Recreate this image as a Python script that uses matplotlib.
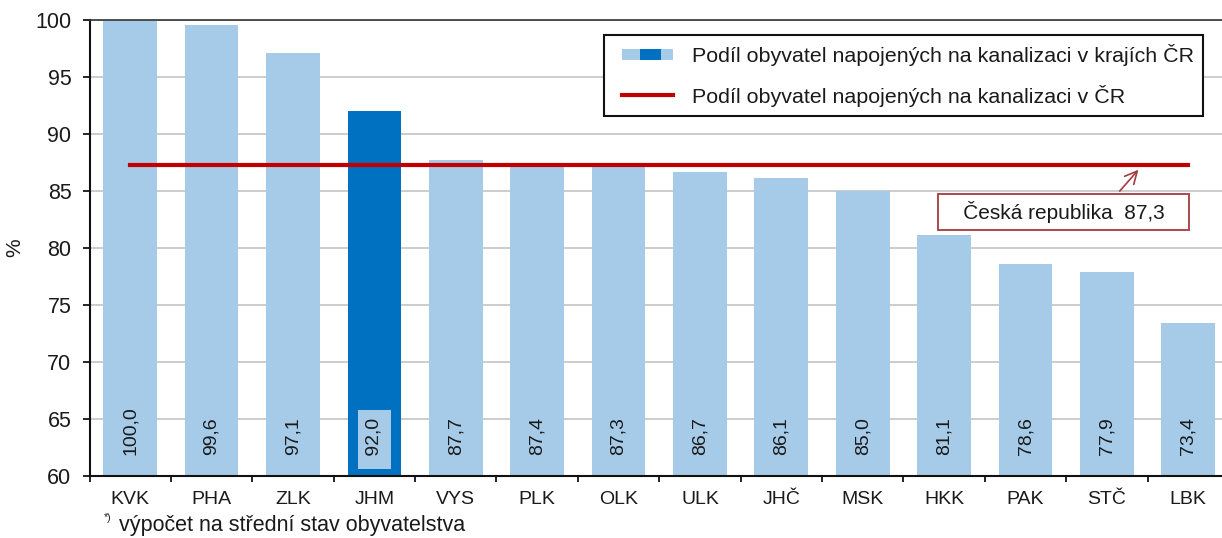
import matplotlib
matplotlib.use("Agg")
import matplotlib.pyplot as plt
from matplotlib.patches import Rectangle
from matplotlib.lines import Line2D
from matplotlib.legend_handler import HandlerBase
import numpy as np

# ---- data ----
regions = ["KVK", "PHA", "ZLK", "JHM", "VYS", "PLK", "OLK", "ULK", "JHČ", "MSK", "HKK", "PAK", "STČ", "LBK"]
shares = [100.0, 99.6, 97.1, 92.0, 87.7, 87.4, 87.3, 86.7, 86.1, 85.0, 81.1, 78.6, 77.9, 73.4]
highlight = "JHM"
cr_value = 87.3
y_ticks = [60, 65, 70, 75, 80, 85, 90, 95, 100]
legend_labels = ["Podíl obyvatel napojených na kanalizaci v krajích ČR",
                 "Podíl obyvatel napojených na kanalizaci v ČR"]
annot_text = "Česká republika  87,3"
footnote = "výpočet na střední stav obyvatelstva"

LIGHT = "#A6CBE8"
DARK = "#0070C0"
RED = "#C00000"
BOXRED = "#A33A3F"
TXT = "#1a1a1a"

plt.rcParams["font.family"] = ["Liberation Sans", "DejaVu Sans"]

fig = plt.figure(figsize=(12.22, 5.38), dpi=100)
ax = fig.add_axes([89.5 / 1222, 62 / 538, 1139.5 / 1222, 456 / 538])

x = np.arange(len(regions))
colors = [DARK if r == highlight else LIGHT for r in regions]
ax.bar(x, shares, width=0.66, color=colors, zorder=2)
ax.plot(x, [cr_value] * len(x), color=RED, lw=3, zorder=3)

ax.set_xlim(-0.5, len(regions) - 0.5)
ax.set_ylim(60, 100)
ax.set_yticks(y_ticks)
ax.set_yticklabels([str(t) for t in y_ticks], fontsize=15.5, color=TXT)
ax.set_xticks(x)
ax.set_xticklabels(regions, fontsize=14, color=TXT)
ax.tick_params(axis="x", which="major", length=0, pad=11)
ax.set_xticks(np.arange(-0.5, len(regions), 1), minor=True)
ax.tick_params(axis="x", which="minor", length=4, width=1.2, direction="out")
ax.tick_params(axis="y", length=5, width=1.2, direction="out", pad=8)
ax.yaxis.grid(True, color="#C4C4C4", lw=1.2, zorder=0)
ax.set_axisbelow(True)
for side in ["left", "bottom"]:
    ax.spines[side].set_color("#111111")
    ax.spines[side].set_linewidth(1.5)
ax.spines["top"].set_color("#333333")
ax.spines["top"].set_linewidth(1.2)
ax.spines["right"].set_visible(False)

ax.set_ylabel("%", fontsize=15, color=TXT)
ax.yaxis.set_label_coords(-0.0575, 0.5)

for xi, v, r in zip(x, shares, regions):
    lab = f"{v:.1f}".replace(".", ",")
    if r == highlight:
        ax.annotate(" " + lab, xy=(xi, 61.8), xytext=(0, -3.9), textcoords="offset points",
                    rotation=90, ha="center", va="bottom", fontsize=14, color=TXT, zorder=4,
                    bbox=dict(boxstyle="square,pad=0.4", facecolor=LIGHT, edgecolor="none"))
    else:
        ax.text(xi, 61.8, lab, rotation=90, ha="center", va="bottom",
                fontsize=14, color=TXT, zorder=4)

# annotation
ax.annotate("   " + annot_text + "   ", xy=(12.41, 87.05), xytext=(11.47, 83.15),
            ha="center", va="center", fontsize=15, color=TXT,
            bbox=dict(boxstyle="square,pad=0.35", facecolor="white", edgecolor=BOXRED, lw=1.3),
            arrowprops=dict(arrowstyle="->", color=BOXRED, lw=1.2, relpos=(0.7, 1.0),
                            mutation_scale=22),
            zorder=5)

# legend
OFF = 0.15

class DualPatch(HandlerBase):
    def create_artists(self, legend, orig_handle, xdescent, ydescent, width, height, fontsize, trans):
        x0 = -xdescent + width * OFF
        w = width * (1 - OFF)
        h = 7.9
        y0 = -ydescent + (height - h) / 2
        light = Rectangle((x0, y0), w, h, facecolor=LIGHT, edgecolor="none", transform=trans)
        dark = Rectangle((x0 + w * 0.35, y0), w * 0.41, h, facecolor=DARK,
                         edgecolor="none", transform=trans)
        return [light, dark]

class OffsetLine(HandlerBase):
    def create_artists(self, legend, orig_handle, xdescent, ydescent, width, height, fontsize, trans):
        x0 = -xdescent + width * OFF
        y = -ydescent + height / 2
        ln = Line2D([x0, -xdescent + width], [y, y], color=RED, lw=3, transform=trans)
        return [ln]

bar_handle = Rectangle((0, 0), 1, 1)
line_handle = Line2D([0], [0], color=RED, lw=3)
leg = ax.legend([bar_handle, line_handle], legend_labels,
                handler_map={Rectangle: DualPatch(), Line2D: OffsetLine()},
                loc="upper right", bbox_to_anchor=(0.977, 0.967), borderaxespad=0,
                fontsize=15.4, frameon=True, fancybox=False, framealpha=1,
                edgecolor="#111111", handlelength=2.8, handletextpad=0.89,
                labelspacing=0.87, borderpad=0.42)
leg.get_frame().set_linewidth(1.5)
leg.set_zorder(6)
for t in leg.get_texts():
    t.set_color(TXT)

# footnote
fig.text(104 / 1222, 1 - 518 / 538, "*)", fontsize=7.5, va="center", color=TXT)
fig.text(119 / 1222, 1 - 525 / 538, footnote, fontsize=15.5, va="center", color=TXT)

fig.savefig("out.png", dpi=100)
